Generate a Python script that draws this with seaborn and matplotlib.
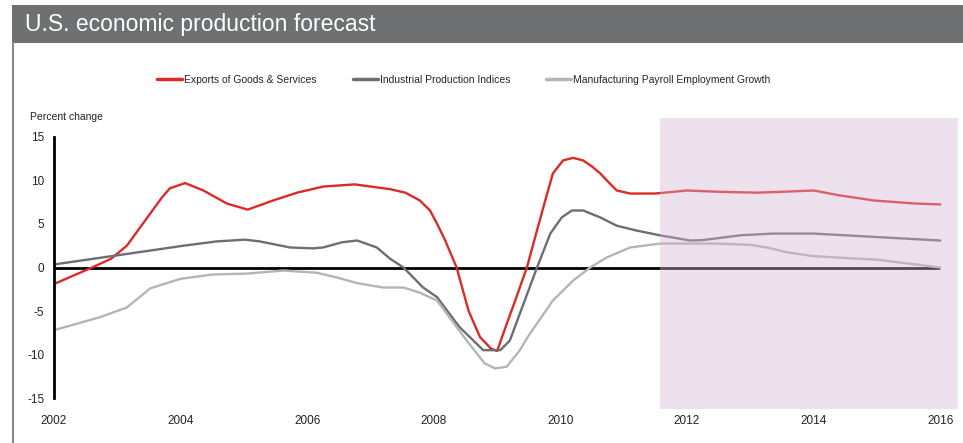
import matplotlib
matplotlib.use("Agg")
import matplotlib.pyplot as plt
from matplotlib import font_manager
from matplotlib.patches import Rectangle
from matplotlib.lines import Line2D
import seaborn as sns
import pandas as pd

# ---- data ----
series_names = ["Exports of Goods & Services", "Industrial Production Indices",
                "Manufacturing Payroll Employment Growth"]

exports_x = [2002.0, 2002.6, 2002.9, 2003.15, 2003.35, 2003.52, 2003.7, 2003.83, 2004.07, 2004.36,
             2004.73, 2005.06, 2005.46, 2005.84, 2006.25, 2006.75, 2007.31, 2007.55, 2007.78, 2007.94,
             2008.06, 2008.18, 2008.36, 2008.55, 2008.73, 2008.9, 2009.0, 2009.15, 2009.3,
             2009.47, 2009.62, 2009.76, 2009.88, 2010.04, 2010.2, 2010.36, 2010.5, 2010.63, 2010.76,
             2010.89, 2011.1, 2011.5, 2012.0, 2012.5, 2013.1, 2013.5, 2014.0, 2014.4, 2014.95,
             2015.6, 2016.0]
exports_y = [-1.9, 0.0, 1.0, 2.5, 4.5, 6.2, 8.0, 9.1, 9.7, 8.85,
             7.35, 6.65, 7.7, 8.6, 9.3, 9.55, 9.0, 8.6, 7.7, 6.55,
             4.9, 3.1, 0.0, -5.0, -8.0, -9.3, -9.6, -6.5, -3.5,
             0.0, 4.0, 7.7, 10.8, 12.3, 12.6, 12.3, 11.6, 10.8, 9.8,
             8.85, 8.5, 8.5, 8.85, 8.7, 8.6, 8.7, 8.85, 8.3, 7.7,
             7.35, 7.25]

industrial_x = [2002.0, 2003.0, 2003.52, 2004.04, 2004.57, 2005.02, 2005.25, 2005.73, 2006.09, 2006.25,
                2006.55, 2006.79, 2007.1, 2007.31, 2007.52, 2007.83, 2008.05, 2008.4, 2008.78, 2009.05,
                2009.2, 2009.4, 2009.63, 2009.84, 2010.02, 2010.18, 2010.36, 2010.63, 2010.89, 2011.2,
                2011.57, 2012.05, 2012.25, 2012.84, 2013.36, 2014.0, 2015.0, 2016.0]
industrial_y = [0.35, 1.4, 1.95, 2.5, 3.0, 3.2, 3.0, 2.3, 2.2, 2.3,
                2.9, 3.1, 2.3, 1.0, 0.0, -2.3, -3.4, -6.8, -9.5, -9.5,
                -8.4, -4.5, 0.0, 3.9, 5.75, 6.55, 6.55, 5.75, 4.8, 4.25,
                3.7, 3.1, 3.15, 3.7, 3.9, 3.9, 3.5, 3.1]

payroll_x = [2002.0, 2002.73, 2003.15, 2003.52, 2004.0, 2004.51, 2005.05, 2005.62, 2006.15, 2006.47,
             2006.79, 2007.2, 2007.52, 2007.78, 2008.05, 2008.52, 2008.8, 2008.97, 2009.15, 2009.35,
             2009.5, 2009.88, 2010.2, 2010.47, 2010.73, 2011.1, 2011.57, 2012.47, 2013.0, 2013.26,
             2013.58, 2014.0, 2014.73, 2015.0, 2016.0]
payroll_y = [-7.2, -5.7, -4.6, -2.4, -1.3, -0.8, -0.7, -0.35, -0.6, -1.15,
             -1.8, -2.3, -2.3, -2.9, -3.8, -8.4, -11.0, -11.6, -11.4, -9.6,
             -7.8, -3.8, -1.5, 0.0, 1.15, 2.3, 2.75, 2.75, 2.6, 2.3,
             1.75, 1.3, 1.0, 0.9, 0.0]

x_ticks = [2002, 2004, 2006, 2008, 2010, 2012, 2014, 2016]
y_ticks = [-15, -10, -5, 0, 5, 10, 15]
forecast_start = 2011.57
forecast_end = 2016.28

# ---- fonts ----
avail = {f.name for f in font_manager.fontManager.ttflist}
main_font = "Liberation Sans Narrow" if "Liberation Sans Narrow" in avail else "Liberation Sans"

sns.set_style("white")
plt.rcParams["font.family"] = [main_font, "DejaVu Sans"]

df = pd.concat([
    pd.DataFrame({"year": exports_x, "value": exports_y, "series": series_names[0]}),
    pd.DataFrame({"year": industrial_x, "value": industrial_y, "series": series_names[1]}),
    pd.DataFrame({"year": payroll_x, "value": payroll_y, "series": series_names[2]}),
])
palette = {series_names[0]: "#DC2A26", series_names[1]: "#6D6E71", series_names[2]: "#B5B5B5"}

fig = plt.figure(figsize=(9.63, 4.43), dpi=100)
ax = fig.add_axes([54 / 963, 1 - 409 / 443, (958 - 54) / 963, (409 - 118) / 443])

ax.hlines(0, 2002, 2016, color="black", lw=2, zorder=1)
sns.lineplot(data=df, x="year", y="value", hue="series", palette=palette, estimator=None,
             sort=False, lw=1.7, ax=ax, legend=False, zorder=2)
for ln in ax.get_lines():
    ln.set_solid_joinstyle("round")
    ln.set_solid_capstyle("round")
ax.axvspan(forecast_start, forecast_end, color=(210 / 255, 180 / 255, 212 / 255), alpha=0.4,
           lw=0, zorder=3)

ax.set_xlim(2002, forecast_end)
ax.set_ylim(-16.26, 17.18)
ax.set_xticks(x_ticks)
ax.set_xticklabels([str(t) for t in x_ticks])
ax.set_yticks(y_ticks)
ax.set_yticklabels([str(t) for t in y_ticks])
ax.tick_params(axis="both", length=0, labelsize=8.5, colors="#222222")
ax.tick_params(axis="x", pad=4)
ax.tick_params(axis="y", pad=7)
ax.set_xlabel("")
ax.set_ylabel("")
for s in ["top", "right", "bottom"]:
    ax.spines[s].set_visible(False)
ax.spines["left"].set_bounds(-15, 15)
ax.spines["left"].set_linewidth(2)
ax.spines["left"].set_color("black")
ax.spines["left"].set_zorder(4)
ax.patch.set_alpha(0)

# title banner
fig.patches.append(Rectangle((12 / 963, 1 - 43 / 443), 1, 38 / 443, transform=fig.transFigure,
                             facecolor="#6E7072", edgecolor="none", zorder=0))
fig.text(25 / 963, 1 - 25 / 443, "U.S. economic production forecast", color="white",
         fontsize=16.5, va="center", ha="left")
fig.add_artist(Line2D([12.5 / 963, 12.5 / 963], [0, 1 - 43 / 443], transform=fig.transFigure,
                      color="#8A8A8A", lw=1.5))

fig.text(30 / 963, 1 - 117 / 443, "Percent change", fontsize=7.5, va="center", ha="left",
         color="#222222")

handles = [Line2D([], [], color=palette[n], lw=2.5) for n in series_names]
fig.legend(handles, series_names, loc="center left", bbox_to_anchor=(148 / 963, 1 - 80 / 443),
           ncol=3, frameon=False, fontsize=7.5, handlelength=2.4, handletextpad=0.2,
           columnspacing=3.4)

fig.savefig("out.png", dpi=100)
